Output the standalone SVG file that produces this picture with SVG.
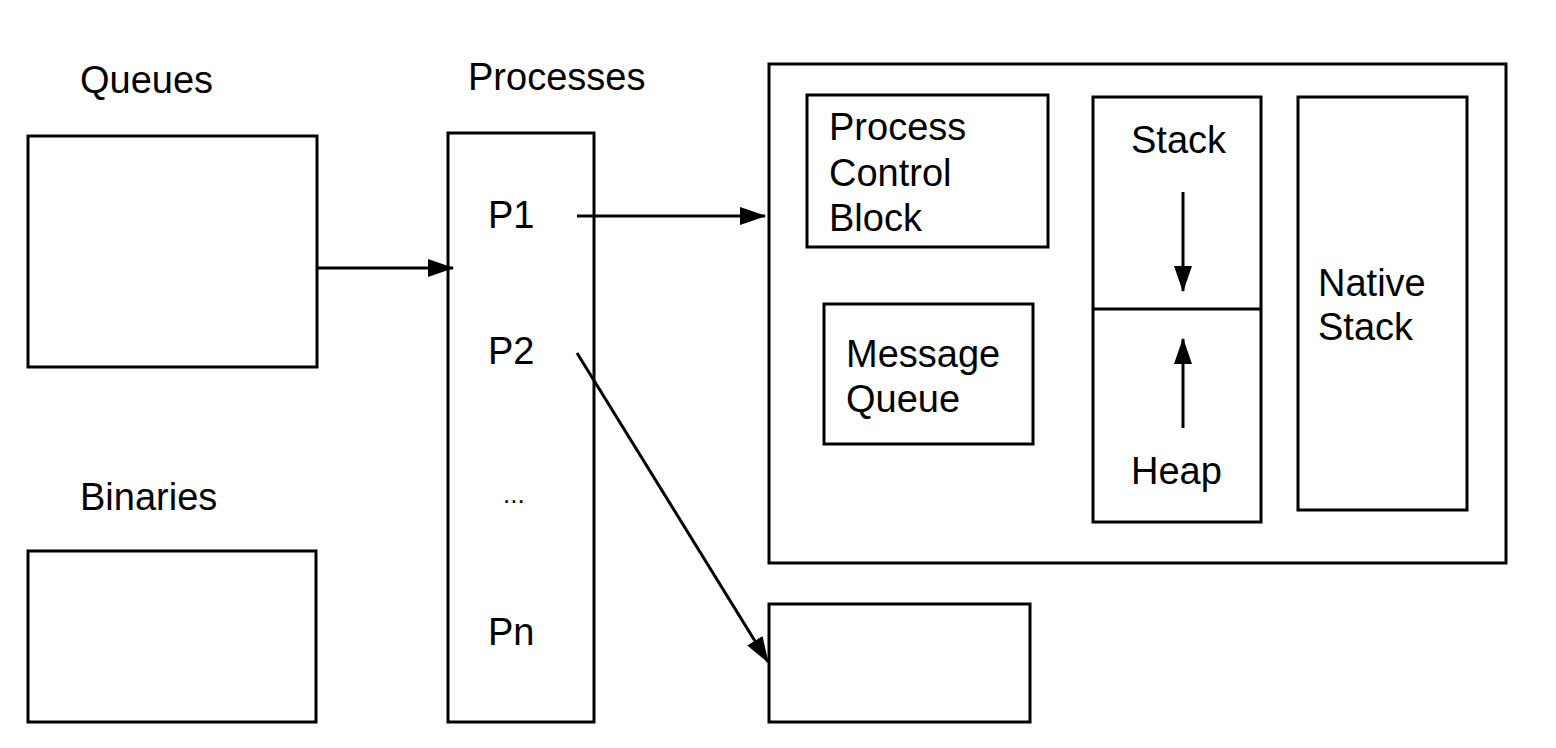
<svg xmlns="http://www.w3.org/2000/svg" width="1556" height="748" viewBox="0 0 1556 748">
<defs>
<style>
.box{fill:none;stroke:#000;stroke-width:3}
.t{font-family:"Liberation Sans",Arial,sans-serif;font-size:38px;fill:#000}
.c{fill:none;stroke:#000;stroke-width:3}
</style>
<marker id="ah" markerWidth="10" markerHeight="8" refX="9.5" refY="4" orient="auto" markerUnits="userSpaceOnUse" viewBox="0 0 10 8">
<path d="M0,0 L10,4 L0,8 Z" fill="#000"/>
</marker>
<marker id="a" viewBox="0 0 26 18" markerWidth="26" markerHeight="18" refX="25" refY="9" orient="auto" markerUnits="userSpaceOnUse">
<path d="M0,0 L26,9 L0,18 Z" fill="#000"/>
</marker>
</defs>
<rect width="1556" height="748" fill="#fff"/>
<g id="queues">
<text class="t" x="80" y="93">Queues</text>
<rect class="box" x="28" y="136" width="289" height="231"/>
</g>
<g id="binaries">
<text class="t" x="80" y="510">Binaries</text>
<rect class="box" x="28" y="551" width="288" height="171"/>
</g>
<g id="processes">
<text class="t" x="468" y="90">Processes</text>
<rect class="box" x="448" y="133" width="146" height="589"/>
<text class="t" x="488" y="228">P1</text>
<text class="t" x="488" y="364">P2</text>
<text class="t" x="503" y="503" style="font-size:26px">...</text>
<text class="t" x="488" y="645">Pn</text>
</g>
<g id="process-detail">
<rect class="box" x="769" y="64" width="737" height="499"/>
</g>
<g id="pcb">
<rect class="box" x="807" y="95" width="241" height="152"/>
<text class="t" x="829" y="140">Process</text>
<text class="t" x="829" y="186">Control</text>
<text class="t" x="829" y="231">Block</text>
</g>
<g id="message-queue">
<rect class="box" x="824" y="304" width="209" height="140"/>
<text class="t" x="846" y="367">Message</text>
<text class="t" x="846" y="412">Queue</text>
</g>
<g id="stack-heap">
<rect class="box" x="1093" y="97" width="168" height="425"/>
<line class="box" x1="1093" y1="309" x2="1261" y2="309"/>
<text class="t" x="1131" y="153">Stack</text>
<text class="t" x="1131" y="484">Heap</text>
</g>
<g id="native-stack">
<rect class="box" x="1298" y="97" width="169" height="413"/>
<text class="t" x="1318" y="296">Native</text>
<text class="t" x="1318" y="340">Stack</text>
</g>
<g id="bottom-box">
<rect class="box" x="769" y="604" width="261" height="118"/>
</g>
<g id="connectors">
<line class="c" x1="317" y1="268" x2="453" y2="268" marker-end="url(#a)"/>
<line class="c" x1="577" y1="216" x2="765" y2="216" marker-end="url(#a)"/>
<line class="c" x1="577" y1="353" x2="768" y2="662" marker-end="url(#a)"/>
<line class="c" x1="1183" y1="192" x2="1183" y2="291" marker-end="url(#a)"/>
<line class="c" x1="1183" y1="428" x2="1183" y2="339" marker-end="url(#a)"/>
</g>
</svg>
